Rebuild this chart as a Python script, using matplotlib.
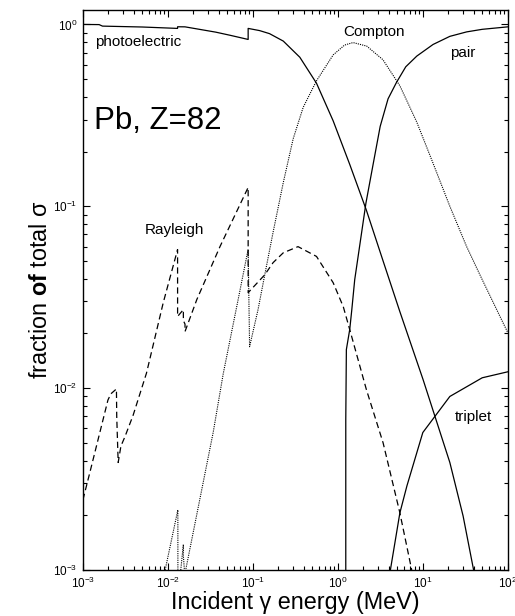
import matplotlib
matplotlib.use("Agg")
import matplotlib.pyplot as plt
from matplotlib.ticker import LogLocator, LogFormatterSciNotation, NullFormatter

plt.rcParams['font.family'] = ['Liberation Sans', 'DejaVu Sans']
plt.rcParams['mathtext.fontset'] = 'custom'
plt.rcParams['mathtext.rm'] = 'Liberation Sans'
plt.rcParams['mathtext.it'] = 'Liberation Sans:italic'
plt.rcParams['mathtext.bf'] = 'Liberation Sans:bold'

# ---- data (energy in MeV, fraction of total cross section) ----
pe_E = [0.001, 0.00155, 0.0017, 0.005, 0.013, 0.01301, 0.0159, 0.0366, 0.055,
        0.088, 0.08801, 0.12, 0.157, 0.228, 0.357, 0.561, 0.881, 1.38, 2.17,
        3.41, 5.36, 10.1, 20.8, 29.8, 39.6, 50]
pe_f = [1.0, 0.998, 0.979, 0.968, 0.951, 0.971, 0.970, 0.907, 0.87,
        0.827, 0.951, 0.925, 0.89, 0.81, 0.66, 0.475, 0.295, 0.17, 0.095,
        0.05, 0.0264, 0.0111, 0.0039, 0.00198, 0.001, 0.0004]

co_E = [0.008, 0.0131, 0.01312, 0.0152, 0.01522, 0.0159, 0.0162, 0.0341,
        0.0448, 0.0671, 0.088, 0.0915, 0.115, 0.138, 0.173, 0.228, 0.298,
        0.391, 0.561, 0.881, 1.2, 1.51, 2.19, 3.39, 5.37, 8.5, 13.1, 20.8,
        32.8, 50, 100]
co_f = [0.00072, 0.00214, 0.0007, 0.00138, 0.00119, 0.0009, 0.001, 0.0057,
        0.012, 0.0307, 0.058, 0.0169, 0.027, 0.042, 0.072, 0.135, 0.235,
        0.35, 0.49, 0.68, 0.77, 0.795, 0.76, 0.64, 0.46, 0.29, 0.174, 0.10,
        0.060, 0.0395, 0.0202]

ra_E = [0.001, 0.0012, 0.00197, 0.00213, 0.00248, 0.0025, 0.0026, 0.0028,
        0.00312, 0.0039, 0.0056, 0.0088, 0.013, 0.01301, 0.0152, 0.01522,
        0.0159, 0.01592, 0.0219, 0.041, 0.088, 0.08801, 0.138, 0.173, 0.228,
        0.34, 0.561, 0.881, 1.16, 1.38, 2.17, 3.41, 5.36, 7.4, 9.0]
ra_f = [0.00243, 0.0034, 0.0086, 0.0093, 0.0099, 0.0070, 0.0039, 0.0048,
        0.0054, 0.0071, 0.0121, 0.0294, 0.0578, 0.0248, 0.027, 0.0235,
        0.0225, 0.0205, 0.0307, 0.060, 0.127, 0.0335, 0.042, 0.049, 0.0555,
        0.060, 0.053, 0.038, 0.028, 0.021, 0.0098, 0.0050, 0.00207, 0.001,
        0.0006]

pa_E = [1.24, 1.24, 1.26, 1.38, 1.46, 1.58, 2.14, 2.6, 3.15, 3.9, 4.9, 6.3,
        8.5, 13.2, 20.8, 32.8, 50, 100]
pa_f = [0.0001, 0.0067, 0.0163, 0.021, 0.027, 0.0395, 0.104, 0.17, 0.275,
        0.39, 0.48, 0.585, 0.67, 0.776, 0.86, 0.91, 0.94, 0.97]

tr_E = [3.0, 4.0, 5.37, 6.5, 10.0, 20.8, 50, 100]
tr_f = [0.0002, 0.0009, 0.00206, 0.0029, 0.0057, 0.009, 0.0114, 0.0123]

labels = ["photoelectric", "Compton", "pair", "Rayleigh", "triplet"]

fig = plt.figure(figsize=(5.15, 6.16), dpi=100)
ax = fig.add_axes([0.161, 0.0747, 0.825, 0.909])

lw = 0.9
ax.plot(pe_E, pe_f, color='black', lw=lw, ls='-')
ax.plot(co_E, co_f, color='black', lw=0.8, ls=(0, (1, 1)))
ax.plot(ra_E, ra_f, color='black', lw=lw, ls=(0, (5, 3)))
ax.plot(pa_E, pa_f, color='black', lw=lw, ls='-')
ax.plot(tr_E, tr_f, color='black', lw=lw, ls='-')

ax.set_xscale('log')
ax.set_yscale('log')
ax.set_xlim(1e-3, 1e2)
ax.set_ylim(1e-3, 1.2)

for axis in (ax.xaxis, ax.yaxis):
    axis.set_major_locator(LogLocator(base=10, numticks=10))
    axis.set_minor_locator(LogLocator(base=10, subs=range(2, 10), numticks=20))
    axis.set_major_formatter(LogFormatterSciNotation())
    axis.set_minor_formatter(NullFormatter())

ax.tick_params(which='both', direction='in', top=True, right=True,
               labelsize=8.5, width=0.8)
ax.tick_params(which='major', length=5, pad=4)
ax.tick_params(which='minor', length=3)
for s in ax.spines.values():
    s.set_linewidth(1.0)

ax.set_xlabel("Incident \u03b3 energy (MeV)", fontsize=16.8, labelpad=0)
ax.set_ylabel("fraction $\\mathbf{of}$ total \u03c3", fontsize=16.8, labelpad=1)

tf = ax.transAxes
ax.text(0.028, 0.943, labels[0], transform=tf, fontsize=11, va='center', ha='left')
ax.text(0.612, 0.961, labels[1], transform=tf, fontsize=11, va='center', ha='left')
ax.text(0.864, 0.923, labels[2], transform=tf, fontsize=11, va='center', ha='left')
ax.text(0.146, 0.607, labels[3], transform=tf, fontsize=11, va='center', ha='left')
ax.text(0.875, 0.274, labels[4], transform=tf, fontsize=11, va='center', ha='left')
ax.text(0.026, 0.802, "Pb, Z=82", transform=tf, fontsize=22.5, va='center', ha='left')

fig.savefig("out.png", dpi=100)
